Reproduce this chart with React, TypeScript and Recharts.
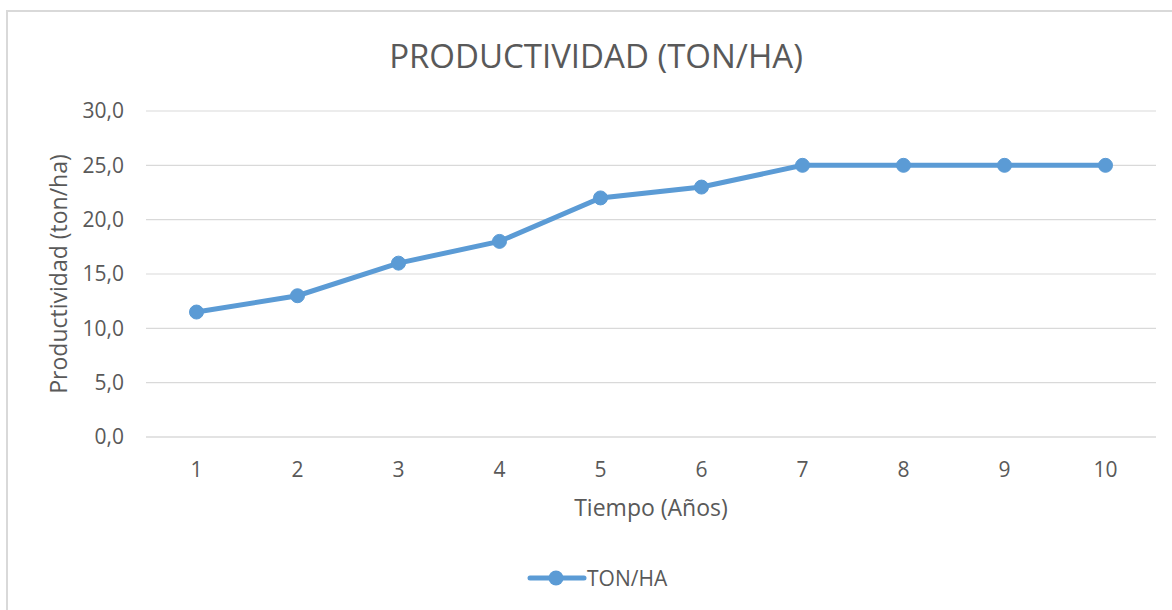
import React from "react";
import { LineChart, Line, XAxis, YAxis, CartesianGrid, Legend, Label } from "recharts";

const years = ["1", "2", "3", "4", "5", "6", "7", "8", "9", "10"];
const tonHa = [11.5, 13, 16, 18, 22, 23, 25, 25, 25, 25];
const yTicks = [0, 5, 10, 15, 20, 25, 30];

const data = years.map((y, i) => ({ year: y, value: tonHa[i] }));

const FONT = "'Open Sans', sans-serif";
const TEXT = "#595959";
const BLUE = "#5B9BD5";

const fmt = (v: number) => v.toFixed(1).replace(".", ",");

const LegendContent = () => (
  <div style={{ display: "flex", justifyContent: "flex-start", alignItems: "center", fontFamily: FONT, color: TEXT, fontSize: 21, lineHeight: "28px" }}>
    <svg width={60} height={18} style={{ marginRight: 0 }}>
      <line x1={3} y1={9} x2={57} y2={9} stroke={BLUE} strokeWidth={5} strokeLinecap="round" />
      <circle cx={29} cy={9} r={7.5} fill={BLUE} />
    </svg>
    <span>TON/HA</span>
  </div>
);

export default function App() {
  return (
    <div style={{ position: "fixed", left: 0, top: 0, width: 1172, height: 610, overflow: "hidden", background: "#fff" }}>
      <div style={{ position: "absolute", left: 6, top: 10, width: 1200, height: 700, borderTop: "2px solid #D9D9D9", borderLeft: "2px solid #D9D9D9", boxSizing: "border-box" }} />
      <div style={{ position: "absolute", left: 0, top: 39, width: 1192, textAlign: "center", fontFamily: FONT, fontSize: 33, lineHeight: 1, color: TEXT }}>
        PRODUCTIVIDAD (TON/HA)
      </div>
      <div style={{ position: "absolute", left: 0, top: 0 }}>
        <LineChart width={1172} height={610} data={data} margin={{ top: 111, right: 16, left: 0, bottom: 0 }}>
          <CartesianGrid vertical={false} stroke="#D9D9D9" strokeWidth={1.2} />
          <XAxis
            dataKey="year"
            height={173}
            padding={{ left: 50.5, right: 50.5 }}
            tickLine={false}
            tickSize={0}
            tickMargin={25}
            axisLine={{ stroke: "#D9D9D9", strokeWidth: 1.2 }}
            tick={{ fill: TEXT, fontSize: 21, fontFamily: FONT }}
          >
            <Label value="Tiempo (Años)" position="insideTop" offset={63} style={{ fill: TEXT, fontSize: 23, fontFamily: FONT }} />
          </XAxis>
          <YAxis
            width={146}
            domain={[0, 30]}
            ticks={yTicks}
            tickFormatter={fmt}
            axisLine={false}
            tickLine={false}
            tickSize={0}
            tickMargin={22}
            tick={{ fill: TEXT, fontSize: 21, fontFamily: FONT }}
          >
            <Label value="Productividad (ton/ha)" angle={-90} position="insideLeft" offset={59} style={{ fill: TEXT, fontSize: 23, fontFamily: FONT, textAnchor: "middle" }} />
          </YAxis>
          <Legend
            layout="horizontal"
            verticalAlign="middle"
            align="center"
            wrapperStyle={{ top: 564, left: 527, width: 220 }}
            content={<LegendContent />}
          />
          <Line
            type="linear"
            dataKey="value"
            name="TON/HA"
            stroke={BLUE}
            strokeWidth={5}
            dot={{ r: 7, fill: BLUE, stroke: BLUE, strokeWidth: 1 }}
            activeDot={false}
            isAnimationActive={false}
          />
        </LineChart>
      </div>
    </div>
  );
}
